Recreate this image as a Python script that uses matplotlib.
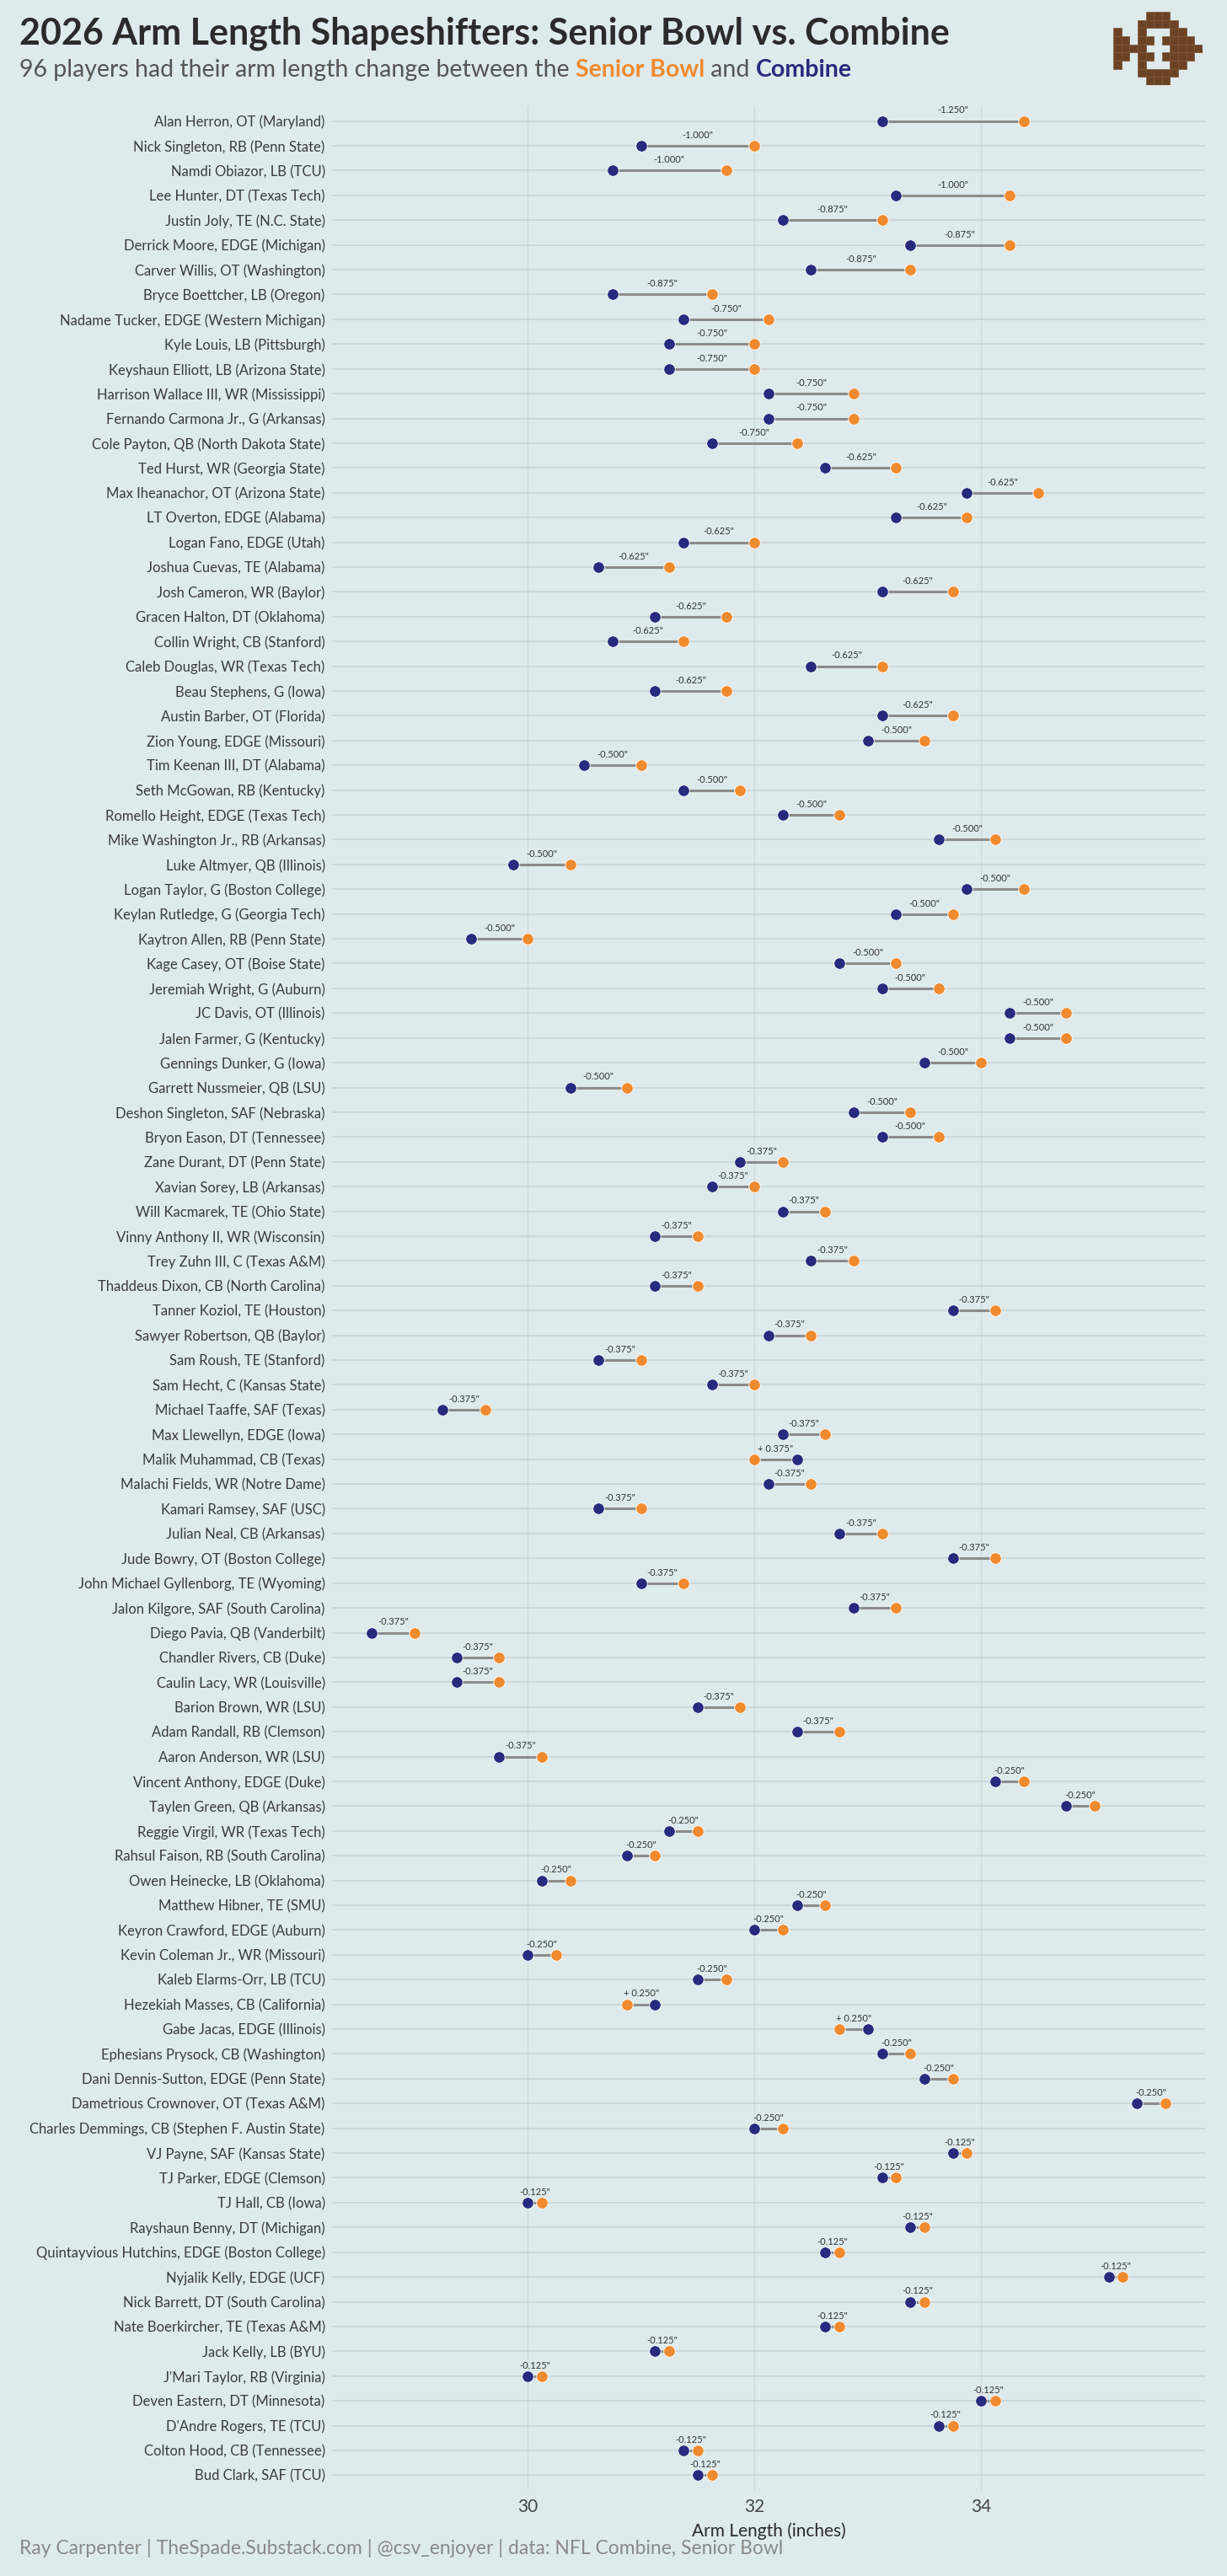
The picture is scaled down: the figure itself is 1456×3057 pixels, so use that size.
import numpy as np
import matplotlib
matplotlib.use("Agg")
import matplotlib.pyplot as plt
from matplotlib.patches import Rectangle

# players, top to bottom
players = [
    "Alan Herron, OT (Maryland)", "Nick Singleton, RB (Penn State)", "Namdi Obiazor, LB (TCU)",
    "Lee Hunter, DT (Texas Tech)", "Justin Joly, TE (N.C. State)", "Derrick Moore, EDGE (Michigan)",
    "Carver Willis, OT (Washington)", "Bryce Boettcher, LB (Oregon)", "Nadame Tucker, EDGE (Western Michigan)",
    "Kyle Louis, LB (Pittsburgh)", "Keyshaun Elliott, LB (Arizona State)", "Harrison Wallace III, WR (Mississippi)",
    "Fernando Carmona Jr., G (Arkansas)", "Cole Payton, QB (North Dakota State)", "Ted Hurst, WR (Georgia State)",
    "Max Iheanachor, OT (Arizona State)", "LT Overton, EDGE (Alabama)", "Logan Fano, EDGE (Utah)",
    "Joshua Cuevas, TE (Alabama)", "Josh Cameron, WR (Baylor)", "Gracen Halton, DT (Oklahoma)",
    "Collin Wright, CB (Stanford)", "Caleb Douglas, WR (Texas Tech)", "Beau Stephens, G (Iowa)",
    "Austin Barber, OT (Florida)", "Zion Young, EDGE (Missouri)", "Tim Keenan III, DT (Alabama)",
    "Seth McGowan, RB (Kentucky)", "Romello Height, EDGE (Texas Tech)", "Mike Washington Jr., RB (Arkansas)",
    "Luke Altmyer, QB (Illinois)", "Logan Taylor, G (Boston College)", "Keylan Rutledge, G (Georgia Tech)",
    "Kaytron Allen, RB (Penn State)", "Kage Casey, OT (Boise State)", "Jeremiah Wright, G (Auburn)",
    "JC Davis, OT (Illinois)", "Jalen Farmer, G (Kentucky)", "Gennings Dunker, G (Iowa)",
    "Garrett Nussmeier, QB (LSU)", "Deshon Singleton, SAF (Nebraska)", "Bryon Eason, DT (Tennessee)",
    "Zane Durant, DT (Penn State)", "Xavian Sorey, LB (Arkansas)", "Will Kacmarek, TE (Ohio State)",
    "Vinny Anthony II, WR (Wisconsin)", "Trey Zuhn III, C (Texas A&M)", "Thaddeus Dixon, CB (North Carolina)",
    "Tanner Koziol, TE (Houston)", "Sawyer Robertson, QB (Baylor)", "Sam Roush, TE (Stanford)",
    "Sam Hecht, C (Kansas State)", "Michael Taaffe, SAF (Texas)", "Max Llewellyn, EDGE (Iowa)",
    "Malik Muhammad, CB (Texas)", "Malachi Fields, WR (Notre Dame)", "Kamari Ramsey, SAF (USC)",
    "Julian Neal, CB (Arkansas)", "Jude Bowry, OT (Boston College)", "John Michael Gyllenborg, TE (Wyoming)",
    "Jalon Kilgore, SAF (South Carolina)", "Diego Pavia, QB (Vanderbilt)", "Chandler Rivers, CB (Duke)",
    "Caulin Lacy, WR (Louisville)", "Barion Brown, WR (LSU)", "Adam Randall, RB (Clemson)",
    "Aaron Anderson, WR (LSU)", "Vincent Anthony, EDGE (Duke)", "Taylen Green, QB (Arkansas)",
    "Reggie Virgil, WR (Texas Tech)", "Rahsul Faison, RB (South Carolina)", "Owen Heinecke, LB (Oklahoma)",
    "Matthew Hibner, TE (SMU)", "Keyron Crawford, EDGE (Auburn)", "Kevin Coleman Jr., WR (Missouri)",
    "Kaleb Elarms-Orr, LB (TCU)", "Hezekiah Masses, CB (California)", "Gabe Jacas, EDGE (Illinois)",
    "Ephesians Prysock, CB (Washington)", "Dani Dennis-Sutton, EDGE (Penn State)",
    "Dametrious Crownover, OT (Texas A&M)", "Charles Demmings, CB (Stephen F. Austin State)",
    "VJ Payne, SAF (Kansas State)", "TJ Parker, EDGE (Clemson)", "TJ Hall, CB (Iowa)",
    "Rayshaun Benny, DT (Michigan)", "Quintayvious Hutchins, EDGE (Boston College)", "Nyjalik Kelly, EDGE (UCF)",
    "Nick Barrett, DT (South Carolina)", "Nate Boerkircher, TE (Texas A&M)", "Jack Kelly, LB (BYU)",
    "J'Mari Taylor, RB (Virginia)", "Deven Eastern, DT (Minnesota)", "D'Andre Rogers, TE (TCU)",
    "Colton Hood, CB (Tennessee)", "Bud Clark, SAF (TCU)",
]

combine = [
    33.125, 31.0, 30.75, 33.25, 32.25, 33.375, 32.5, 30.75, 31.375, 31.25, 31.25,
    32.125, 32.125, 31.625, 32.625, 33.875, 33.25, 31.375, 30.625, 33.125, 31.125, 30.75,
    32.5, 31.125, 33.125, 33.0, 30.5, 31.375, 32.25, 33.625, 29.875, 33.875, 33.25,
    29.5, 32.75, 33.125, 34.25, 34.25, 33.5, 30.375, 32.875, 33.125, 31.875, 31.625,
    32.25, 31.125, 32.5, 31.125, 33.75, 32.125, 30.625, 31.625, 29.25, 32.25, 32.375,
    32.125, 30.625, 32.75, 33.75, 31.0, 32.875, 28.625, 29.375, 29.375, 31.5, 32.375,
    29.75, 34.125, 34.75, 31.25, 30.875, 30.125, 32.375, 32.0, 30.0, 31.5, 31.125,
    33.0, 33.125, 33.5, 35.375, 32.0, 33.75, 33.125, 30.0, 33.375, 32.625, 35.125,
    33.375, 32.625, 31.125, 30.0, 34.0, 33.625, 31.375, 31.5,
]

senior_bowl = [
    34.375, 32.0, 31.75, 34.25, 33.125, 34.25, 33.375, 31.625, 32.125, 32.0, 32.0,
    32.875, 32.875, 32.375, 33.25, 34.5, 33.875, 32.0, 31.25, 33.75, 31.75, 31.375,
    33.125, 31.75, 33.75, 33.5, 31.0, 31.875, 32.75, 34.125, 30.375, 34.375, 33.75,
    30.0, 33.25, 33.625, 34.75, 34.75, 34.0, 30.875, 33.375, 33.625, 32.25, 32.0,
    32.625, 31.5, 32.875, 31.5, 34.125, 32.5, 31.0, 32.0, 29.625, 32.625, 32.0,
    32.5, 31.0, 33.125, 34.125, 31.375, 33.25, 29.0, 29.75, 29.75, 31.875, 32.75,
    30.125, 34.375, 35.0, 31.5, 31.125, 30.375, 32.625, 32.25, 30.25, 31.75, 30.875,
    32.75, 33.375, 33.75, 35.625, 32.25, 33.875, 33.25, 30.125, 33.5, 32.75, 35.25,
    33.5, 32.75, 31.25, 30.125, 34.125, 33.75, 31.5, 31.625,
]

x_ticks = [30, 32, 34]

# 11 x 9 pixel logo, 1 = brown
logo = [
    "00001110000",
    "00011111000",
    "10010001100",
    "11011011110",
    "11110001111",
    "11011011110",
    "10010001100",
    "00011111000",
    "00001110000",
]

BG = "#deeaeb"
NAVY = "#272a7d"
ORANGE = "#f08a2e"
W, H = 1456, 3057

plt.rcParams["font.family"] = ["Lato", "DejaVu Sans"]

fig = plt.figure(figsize=(W / 100, H / 100), dpi=100, facecolor=BG)
ax = fig.add_axes([394 / W, 1 - 2955 / H, (1430 - 394) / W, (2955 - 126) / H])
ax.set_facecolor(BG)

n = len(players)
y = np.arange(n)
comb = np.array(combine)
sb = np.array(senior_bowl)

for s in ax.spines.values():
    s.set_visible(False)

ax.hlines(y, 28.275, 35.975, color="#cbd4d6", lw=1.2, zorder=0)
for t in x_ticks:
    ax.axvline(t, color="#cdd8da", lw=0.8, zorder=0)

ax.hlines(y, comb, sb, color="#8c8c8c", lw=2.2, zorder=2)
ax.scatter(sb, y, s=95, color=ORANGE, edgecolor="white", linewidth=0.6, zorder=3)
ax.scatter(comb, y, s=95, color=NAVY, edgecolor="white", linewidth=0.6, zorder=4)

for i in range(n):
    d = comb[i] - sb[i]
    lab = f'{d:.3f}"' if d < 0 else f'+ {d:.3f}"'
    ax.text((comb[i] + sb[i]) / 2, i - 0.43, lab, ha="center", va="center",
            fontsize=8, color="#333333", zorder=5)

ax.set_xlim(28.275, 35.975)
ax.set_ylim(n - 0.4, -0.6)
ax.set_yticks(y)
ax.set_yticklabels(players, fontsize=12, color="#3c3c3c")
ax.set_xticks(x_ticks)
ax.set_xticklabels([str(t) for t in x_ticks], fontsize=15, color="#444444")
ax.tick_params(length=0)
ax.tick_params(axis="y", pad=6)
ax.tick_params(axis="x", pad=7)
ax.set_xlabel("Arm Length (inches)", fontsize=15, color="#2b2b2b", labelpad=6)

# title / subtitle
fig.text(23 / W, 1 - 40 / H, "2026 Arm Length Shapeshifters: Senior Bowl vs. Combine",
         fontsize=31, fontweight="bold", color="#2b2b2b", va="center")

renderer = fig.canvas.get_renderer()
parts = [("96 players had their arm length change between the ", "#555555", "normal"),
         ("Senior Bowl", ORANGE, "bold"),
         (" and ", "#555555", "normal"),
         ("Combine", NAVY, "bold")]
xpos = 23
for txt, col, wt in parts:
    t = fig.text(xpos / W, 1 - 83 / H, txt, fontsize=20.5, color=col, fontweight=wt, va="center")
    xpos += t.get_window_extent(renderer).width

fig.text(23 / W, 1 - 3024 / H,
         "Ray Carpenter | TheSpade.Substack.com | @csv_enjoyer | data: NFL Combine, Senior Bowl",
         fontsize=16.5, color="#8a8a8a", va="center")

# logo
lax = fig.add_axes([1321 / W, 1 - 101 / H, 106 / W, 87 / H])
lax.set_xlim(0, 11)
lax.set_ylim(9, 0)
lax.axis("off")
for r, row in enumerate(logo):
    for c, v in enumerate(row):
        if v == "1":
            lax.add_patch(Rectangle((c, r), 1, 1, facecolor="#6c4225", edgecolor="#7d5436", lw=0.5))

fig.savefig("out.png", dpi=100, facecolor=BG)
